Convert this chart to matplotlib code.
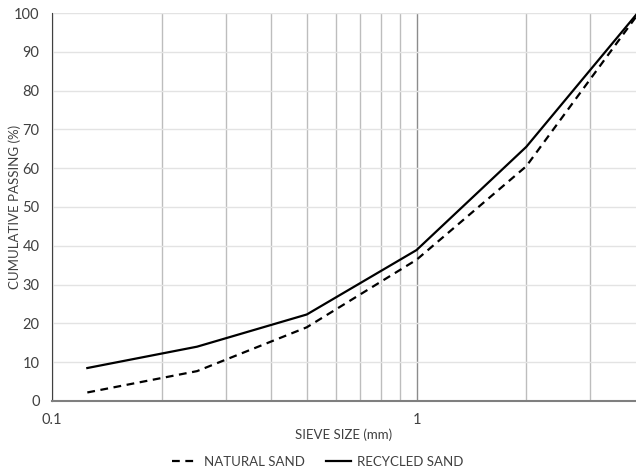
import numpy as np
import matplotlib.pyplot as plt
from matplotlib.ticker import FixedLocator, NullFormatter

# Sieve sizes (mm) and cumulative passing (%)
sieve = [0.125, 0.25, 0.5, 1, 2, 4]
natural_sand = [2.2, 7.7, 19.0, 36.4, 60.5, 99.0]
recycled_sand = [8.5, 14.0, 22.3, 38.9, 65.5, 99.5]

plt.rcParams['font.family'] = ['Lato', 'DejaVu Sans']

fig = plt.figure(figsize=(6.36, 4.70), dpi=100)
ax = fig.add_axes([52 / 636, 69 / 470, 1 - 52 / 636, (401 - 13) / 470])

ax.plot(sieve, natural_sand, color='black', lw=1.6, ls=(0, (3.5, 2.5)), label='NATURAL SAND')
ax.plot(sieve, recycled_sand, color='black', lw=1.6, label='RECYCLED SAND')

ax.set_xscale('log')
ax.set_xlim(0.1, 4)
ax.set_ylim(0, 100)
ax.set_yticks(np.arange(0, 101, 10))
ax.xaxis.set_major_locator(FixedLocator([0.1, 1]))
ax.xaxis.set_minor_locator(FixedLocator([0.2, 0.3, 0.4, 0.5, 0.6, 0.7, 0.8, 0.9, 2, 3]))
ax.xaxis.set_minor_formatter(NullFormatter())
ax.set_xticklabels(['0.1', '1'])

ax.grid(axis='y', color='#e3e3e3', lw=1)
ax.grid(axis='x', which='minor', color='#bdbdbd', lw=1)
ax.grid(axis='x', which='major', color='#8c8c8c', lw=1)
ax.set_axisbelow(True)

for s in ['top', 'right']:
    ax.spines[s].set_visible(False)
ax.spines['left'].set_color('#404040')
ax.spines['bottom'].set_color('#7f7f7f')
ax.spines['bottom'].set_linewidth(1.5)
ax.tick_params(which='both', length=0, labelsize=10.5, colors='#404040', pad=9)
ax.tick_params(axis='y', pad=9)

ax.set_xlabel('SIEVE SIZE (mm)', fontsize=9.5, color='#404040')
ax.xaxis.set_label_coords(0.5, -34 / 388)
ax.xaxis.label.set_va('center')
ax.set_ylabel('CUMULATIVE PASSING (%)', fontsize=9.5, color='#404040')
ax.yaxis.set_label_coords(-37 / 584, 0.5)
ax.yaxis.label.set_va('center')

fig.legend(loc='center', bbox_to_anchor=(0.5, 8 / 470), ncol=2, frameon=False,
           fontsize=9.5, handlelength=1.9, handletextpad=0.5, columnspacing=1.6,
           labelcolor='#404040')

fig.savefig('out.png', dpi=100)
